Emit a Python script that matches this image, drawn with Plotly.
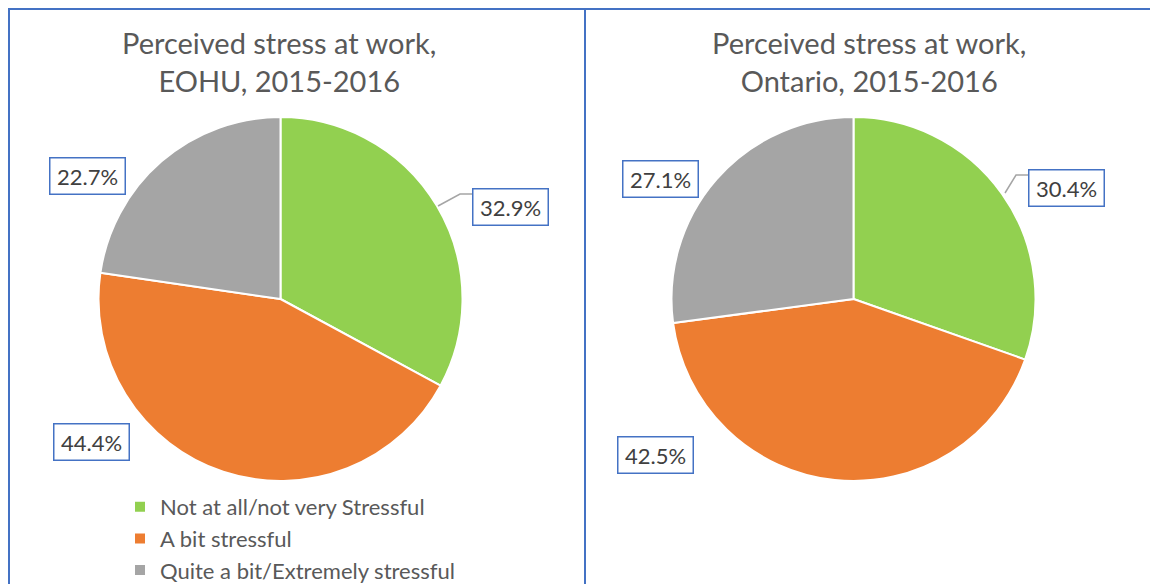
import plotly.graph_objects as go

W, H = 1150, 584

categories = ["Not at all/not very Stressful", "A bit stressful", "Quite a bit/Extremely stressful"]
eohu_values = [32.9, 44.4, 22.7]
ontario_values = [30.4, 42.5, 27.1]
titles = ["Perceived stress at work,<br>EOHU, 2015-2016", "Perceived stress at work,<br>Ontario, 2015-2016"]
colors = ["#92D050", "#ED7D31", "#A5A5A5"]

FONT = "Lato, Carlito, Calibri, 'DejaVu Sans', sans-serif"
BLUE = "#4472C4"

def px(x):
    return x / W

def py(y):
    return 1 - y / H

fig = go.Figure()

pies = [
    dict(values=eohu_values, cx=280.5, cy=299, r=182, legend="legend"),
    dict(values=ontario_values, cx=853.5, cy=299, r=182, legend="legend2"),
]
for p in pies:
    fig.add_trace(go.Pie(
        labels=categories,
        values=p["values"],
        sort=False,
        direction="clockwise",
        rotation=0,
        marker=dict(colors=colors, line=dict(color="white", width=2)),
        textinfo="none",
        hoverinfo="label+percent",
        domain=dict(x=[px(p["cx"] - p["r"]), px(p["cx"] + p["r"])],
                    y=[py(p["cy"] + p["r"]), py(p["cy"] - p["r"])]),
        legend=p["legend"],
        showlegend=True,
    ))

annotations = []
for t, cx in zip(titles, [279, 869]):
    annotations.append(dict(text=t, x=px(cx), y=py(62), xref="paper", yref="paper",
                            showarrow=False, xanchor="center", yanchor="middle",
                            font=dict(family=FONT, size=29, color="#595959")))

label_pos = [
    [(510, 207), (91, 442), (87, 176)],
    [(1066, 188), (655, 455), (660, 179)],
]
for vals, poss in zip([eohu_values, ontario_values], label_pos):
    for v, (x, y) in zip(vals, poss):
        annotations.append(dict(text=f"{v:.1f}%", x=px(x), y=py(y), xref="paper", yref="paper",
                                showarrow=False, xanchor="center", yanchor="middle",
                                width=70, height=31, align="center", valign="middle",
                                bordercolor=BLUE, borderwidth=1.5, borderpad=2, bgcolor="white",
                                font=dict(family=FONT, size=22, color="#404040")))

shapes = []
shapes.append(dict(type="rect", xref="paper", yref="paper", x0=px(9), x1=px(585), y0=py(620), y1=py(9),
                   line=dict(color=BLUE, width=2), fillcolor="rgba(0,0,0,0)", layer="below"))
shapes.append(dict(type="rect", xref="paper", yref="paper", x0=px(585), x1=px(1170), y0=py(620), y1=py(9),
                   line=dict(color=BLUE, width=2), fillcolor="rgba(0,0,0,0)", layer="below"))
for pts in [[(438, 206), (460, 194), (472, 194)], [(1005, 193), (1016, 175), (1028, 175)]]:
    path = "M " + " L ".join(f"{px(x)},{py(y)}" for x, y in pts)
    shapes.append(dict(type="path", xref="paper", yref="paper", path=path,
                       line=dict(color="#A5A5A5", width=1.5)))

legend_common = dict(
    font=dict(family=FONT, size=22, color="#595959"),
    bgcolor="rgba(0,0,0,0)",
    xanchor="left", yanchor="top",
    orientation="v",
    itemclick=False, itemdoubleclick=False,
    tracegroupgap=0,
)

fig.update_layout(
    width=W, height=H,
    margin=dict(l=0, r=0, t=0, b=0, autoexpand=False),
    paper_bgcolor="white",
    plot_bgcolor="white",
    annotations=annotations,
    shapes=shapes,
    legend=dict(x=px(120), y=py(486), **legend_common),
    legend2=dict(x=px(697), y=py(486), **legend_common),
)

fig.write_html("out.html",
               config={"displayModeBar": False},
               post_script="document.body.style.margin='0';document.body.style.overflow='hidden';")
